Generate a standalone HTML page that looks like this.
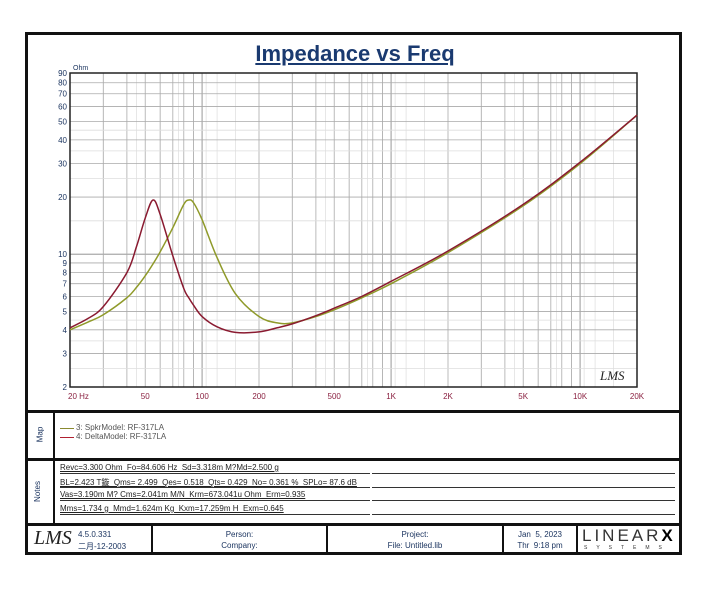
<!DOCTYPE html>
<html><head><meta charset="utf-8"><style>
body{margin:0;background:#fff;width:727px;height:596px;position:relative;font-family:"Liberation Sans",sans-serif;overflow:hidden}
.abs{position:absolute}
.box{position:absolute;border:3px solid #111;box-sizing:border-box}
.t{position:absolute;font-size:9px;color:#1c3560;white-space:nowrap}
.ln{position:absolute;height:1px;background:#333}
</style></head><body>
<div class="box" style="left:25px;top:32px;width:657px;height:523px"></div>
<div class="abs" style="left:0;width:710px;top:41px;text-align:center;font-size:22px;font-weight:bold;color:#1a3a70;text-decoration:underline">Impedance vs Freq</div>
<svg class="abs" style="left:0;top:0" width="727" height="596" id="chart"></svg>
<div class="abs" style="left:26px;top:410px;width:655px;height:3px;background:#111"></div>
<div class="abs" style="left:26px;top:458px;width:655px;height:3px;background:#111"></div>
<div class="abs" style="left:26px;top:523px;width:655px;height:3px;background:#111"></div>
<div class="abs" style="left:53px;top:412px;width:2px;height:112px;background:#111"></div>
<div class="t" style="left:32px;top:430px;transform:rotate(-90deg);font-size:8px">Map</div>
<div class="t" style="left:27px;top:487px;transform:rotate(-90deg);font-size:8px">Notes</div>
<div class="abs" style="left:60px;top:428px;width:14px;height:1px;background:#8a8a30"></div>
<div class="t" style="left:76px;top:423px;font-size:8px;color:#555">3: SpkrModel: RF-317LA</div>
<div class="abs" style="left:60px;top:437px;width:14px;height:1px;background:#b02030"></div>
<div class="t" style="left:76px;top:432px;font-size:8px;color:#555">4: DeltaModel: RF-317LA</div>
<div>
<div class="t" style="left:60px;top:463px;font-size:8px;color:#222;text-decoration:underline">Revc=3.300 Ohm&nbsp; Fo=84.606 Hz&nbsp; Sd=3.318m M?Md=2.500 g</div>
<div class="t" style="left:60px;top:477px;font-size:8px;color:#222;text-decoration:underline">BL=2.423 T鏇&nbsp; Qms= 2.499&nbsp; Qes= 0.518&nbsp; Qts= 0.429&nbsp; No= 0.361 %&nbsp; SPLo= 87.6 dB</div>
<div class="t" style="left:60px;top:490px;font-size:8px;color:#222;text-decoration:underline">Vas=3.190m M? Cms=2.041m M/N&nbsp; Krm=673.041u Ohm&nbsp; Erm=0.935</div>
<div class="t" style="left:60px;top:504px;font-size:8px;color:#222;text-decoration:underline">Mms=1.734 g&nbsp; Mmd=1.624m Kg&nbsp; Kxm=17.259m H&nbsp; Exm=0.645</div>
<div class="ln" style="left:60px;top:473px;width:310px"></div><div class="ln" style="left:372px;top:473px;width:303px"></div>
<div class="ln" style="left:60px;top:487px;width:310px"></div><div class="ln" style="left:372px;top:487px;width:303px"></div>
<div class="ln" style="left:60px;top:500px;width:310px"></div><div class="ln" style="left:372px;top:500px;width:303px"></div>
<div class="ln" style="left:60px;top:514px;width:310px"></div><div class="ln" style="left:372px;top:514px;width:303px"></div>
</div>
<div>
<div class="abs" style="left:151px;top:525px;width:2px;height:28px;background:#111"></div>
<div class="abs" style="left:326px;top:525px;width:2px;height:28px;background:#111"></div>
<div class="abs" style="left:502px;top:525px;width:2px;height:28px;background:#111"></div>
<div class="abs" style="left:576px;top:525px;width:2px;height:28px;background:#111"></div>
<div class="abs" style="left:34px;top:527px;font-size:20px;font-style:italic;font-family:'Liberation Serif',serif;color:#222">LMS</div>
<div class="t" style="left:78px;top:530px;font-size:8px">4.5.0.331</div>
<div class="t" style="left:78px;top:541px;font-size:8px;font-family:'Liberation Sans','Noto Sans CJK SC',sans-serif">二月-12-2003</div>
<div class="t" style="left:153px;width:173px;text-align:center;top:530px;font-size:8px">Person:</div>
<div class="t" style="left:153px;width:173px;text-align:center;top:541px;font-size:8px">Company:</div>
<div class="t" style="left:328px;width:174px;text-align:center;top:530px;font-size:8px">Project:</div>
<div class="t" style="left:328px;width:174px;text-align:center;top:541px;font-size:8px">File: Untitled.lib</div>
<div class="t" style="left:504px;width:72px;text-align:center;top:530px;font-size:8px">Jan&nbsp; 5, 2023</div>
<div class="t" style="left:504px;width:72px;text-align:center;top:541px;font-size:8px">Thr&nbsp; 9:18 pm</div>
<div class="abs" style="left:582px;top:526px;font-size:17px;letter-spacing:3px;color:#333">LINEAR<b style="color:#000">X</b></div>
<div class="abs" style="left:584px;top:545px;font-size:5px;letter-spacing:9px;color:#333">SYSTEMS</div>
</div>
<script>
const freqs=[20,25,30,40,45,50,55,60,70,80,85,90,100,120,150,200,250,300,400,500,700,1000,2000,5000,10000,20000];
const spkrOhm=[4.0,4.4,4.8,5.9,6.7,7.7,8.9,10.3,13.8,18.3,19.3,18.7,15.2,9.6,6.2,4.7,4.35,4.35,4.7,5.1,5.9,7.0,10.2,18,30,54];
const deltaOhm=[4.1,4.6,5.3,8,11,15.5,19.3,16.2,9.8,6.6,5.9,5.4,4.7,4.15,3.88,3.9,4.1,4.3,4.75,5.2,6.0,7.2,10.4,18.3,30.5,54];
const yTickLabels=[2,3,4,5,6,7,8,9,10,20,30,40,50,60,70,80,90];
const xTickLabels=[[20,'20  Hz'],[50,'50'],[100,'100'],[200,'200'],[500,'500'],[1000,'1K'],[2000,'2K'],[5000,'5K'],[10000,'10K'],[20000,'20K']];
const X0=70,X1=637,Y0=387,Y1=73;
const xs=f=>X0+(Math.log10(f)-Math.log10(20))/3*(X1-X0);
const ys=v=>Y0-(Math.log10(v)-Math.log10(2))/Math.log10(45)*(Y0-Y1);
const svg=document.getElementById('chart');const NS='http://www.w3.org/2000/svg';
function mk(t,a){const e=document.createElementNS(NS,t);for(const k in a)e.setAttribute(k,a[k]);svg.appendChild(e);return e;}
const grid=document.createElementNS(NS,'g');svg.appendChild(grid);
for(let d=10;d<=10000;d*=10)for(let m=1;m<10;m++){const f=d*m;if(f<20||f>20000)continue;const x=xs(f);const l=document.createElementNS(NS,'line');l.setAttribute('x1',x);l.setAttribute('x2',x);l.setAttribute('y1',Y1);l.setAttribute('y2',Y0);l.setAttribute('stroke','#aaa');l.setAttribute('stroke-width',m==1?1.2:0.8);grid.appendChild(l);
if(m<9){const x2=xs(f*1.5);if(f*1.5<20000){const l2=document.createElementNS(NS,'line');l2.setAttribute('x1',x2);l2.setAttribute('x2',x2);l2.setAttribute('y1',Y1);l2.setAttribute('y2',Y0);l2.setAttribute('stroke','#ddd');l2.setAttribute('stroke-width',0.7);grid.appendChild(l2);}}}
const yminor=[2.5,3.5,4.5,15,25,35,45];
yTickLabels.concat(yminor).forEach(v=>{const y=ys(v);const l=document.createElementNS(NS,'line');l.setAttribute('x1',X0);l.setAttribute('x2',X1);l.setAttribute('y1',y);l.setAttribute('y2',y);l.setAttribute('stroke',yminor.includes(v)?'#ddd':'#aaa');l.setAttribute('stroke-width',v==10?1.2:0.8);grid.appendChild(l);});
yTickLabels.forEach(v=>{const t=mk('text',{x:X0-3,y:ys(v)+3,'text-anchor':'end','font-size':8,fill:'#1c3560','font-family':'Liberation Sans'});t.textContent=v;

});
xTickLabels.forEach(([f,s])=>{const t=mk('text',{x:f==20?xs(f)-2:xs(f),y:Y0+12,'text-anchor':f==20?'start':'middle','font-size':8,fill:'#8a2040','font-family':'Liberation Sans','xml:space':'preserve'});t.textContent=s;

});
const u=mk('text',{x:X0+3,y:Y1-3,'font-size':7,fill:'#1c3560','font-family':'Liberation Sans'});u.textContent='Ohm';


const fr=mk('rect',{x:X0,y:Y1,width:X1-X0,height:Y0-Y1,fill:'none',stroke:'#222','stroke-width':1.5});


const lg=mk('text',{x:600,y:380,'font-size':13,'font-style':'italic','font-family':'Liberation Serif',fill:'#222'});lg.textContent='LMS';


function path(vals){const p=freqs.map((f,i)=>[xs(f),ys(vals[i])]);let d='M'+p[0][0]+','+p[0][1];
for(let i=0;i<p.length-1;i++){const p0=p[i-1]||p[i],p1=p[i],p2=p[i+1],p3=p[i+2]||p2;
d+=` C${p1[0]+(p2[0]-p0[0])/6},${p1[1]+(p2[1]-p0[1])/6} ${p2[0]-(p3[0]-p1[0])/6},${p2[1]-(p3[1]-p1[1])/6} ${p2[0]},${p2[1]}`;}return d;}
const s1=mk('path',{d:path(spkrOhm),fill:'none',stroke:'#8f9a2a','stroke-width':1.5});


const s2=mk('path',{d:path(deltaOhm),fill:'none',stroke:'#8a1a30','stroke-width':1.5});


</script>
</body></html>
